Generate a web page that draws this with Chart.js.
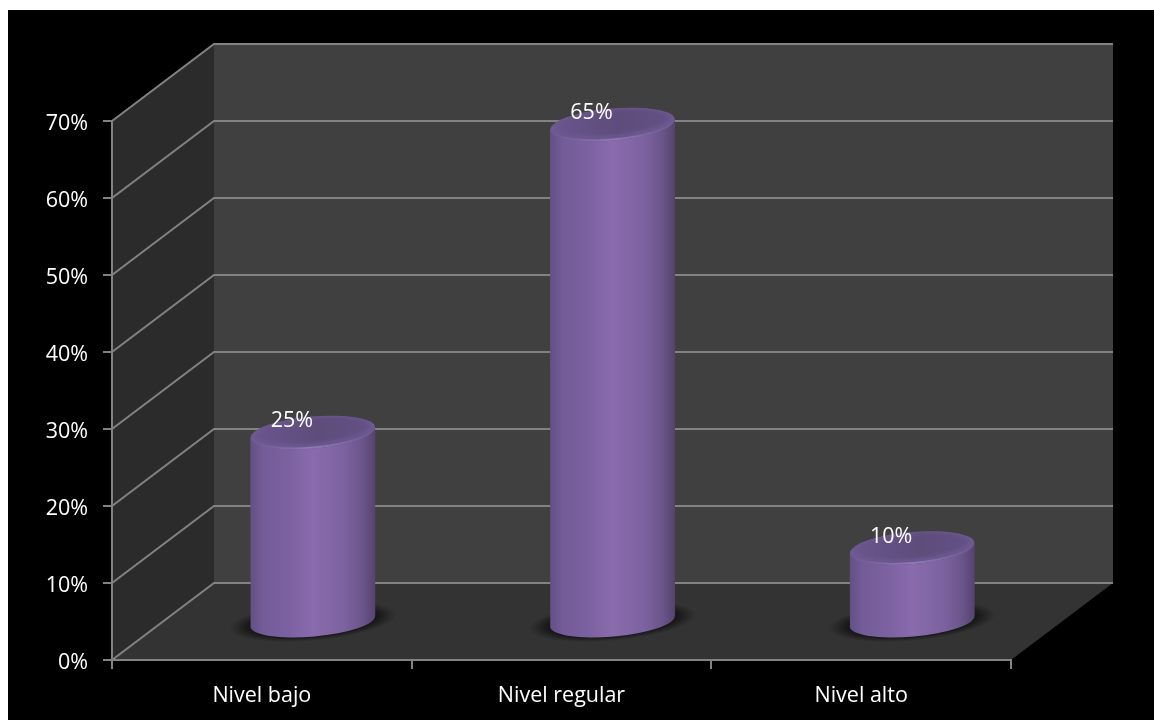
<!DOCTYPE html>
<html>
<head>
<meta charset="utf-8">
<script src="https://cdn.jsdelivr.net/npm/chart.js@4/dist/chart.umd.min.js"></script>
<style>
  html, body { margin: 0; background: #fff; }
  canvas { display: block; }
</style>
</head>
<body>
<canvas id="nivelChart" width="1154" height="720"></canvas>
<script>
var categories = ["Nivel bajo", "Nivel regular", "Nivel alto"];
var values = [25, 65, 10];
var tickLabels = ["0%", "10%", "20%", "30%", "40%", "50%", "60%", "70%"];

var LINE = "#828282";
var FONT = { family: "'Open Sans'", size: 21.5 };
// depth of the fake 3d box, the columns stand half way in
var DEPTH_X = 102, DEPTH_Y = 77;
var TILT = 5.5, CAP_RY = 15, CAP_DROP = 3.5;
var ANGLE = -5 * Math.PI / 180;

function ellipsePath(ctx, x, y, rx, ry) {
  ctx.ellipse(x, y, rx, ry, ANGLE, 0, Math.PI * 2);
}

// outline of one cylinder, in translated coordinates
function cylinderPath(ctx, x, rx, top, bottom) {
  ctx.moveTo(x - rx, top + TILT);
  ctx.lineTo(x + rx, top - TILT);
  ctx.lineTo(x + rx, bottom - TILT);
  ctx.ellipse(x, bottom, rx, CAP_RY, ANGLE, 0, Math.PI);
  ctx.closePath();
}

var box3d = {
  id: "box3d",
  beforeDraw: function (chart) {
    var ctx = chart.ctx, a = chart.chartArea, y = chart.scales.y;
    ctx.save();
    ctx.fillStyle = "#000";
    ctx.fillRect(8, 10, chart.width - 8, chart.height - 10);

    // back wall
    ctx.fillStyle = "#404040";
    ctx.fillRect(a.left + DEPTH_X, a.top - DEPTH_Y, a.right - a.left, a.bottom - a.top);
    // side wall
    ctx.fillStyle = "#2b2b2b";
    ctx.beginPath();
    ctx.moveTo(a.left, a.bottom);
    ctx.lineTo(a.left + DEPTH_X, a.bottom - DEPTH_Y);
    ctx.lineTo(a.left + DEPTH_X, a.top - DEPTH_Y);
    ctx.lineTo(a.left, a.top);
    ctx.closePath();
    ctx.fill();
    // floor
    ctx.fillStyle = "#333333";
    ctx.beginPath();
    ctx.moveTo(a.left, a.bottom);
    ctx.lineTo(a.left + DEPTH_X, a.bottom - DEPTH_Y);
    ctx.lineTo(a.right + DEPTH_X, a.bottom - DEPTH_Y);
    ctx.lineTo(a.right, a.bottom);
    ctx.closePath();
    ctx.fill();

    // gridlines run along side wall and back wall
    ctx.strokeStyle = LINE;
    ctx.lineWidth = 2;
    y.ticks.forEach(function (t) {
      var py = y.getPixelForValue(t.value);
      ctx.beginPath();
      ctx.moveTo(a.left, py);
      ctx.lineTo(a.left + DEPTH_X, py - DEPTH_Y);
      ctx.lineTo(a.right + DEPTH_X, py - DEPTH_Y);
      ctx.stroke();
    });
    ctx.restore();
  },
  beforeDatasetsDraw: function (chart) {
    var ctx = chart.ctx, bars = chart.getDatasetMeta(0).data;
    var bottom = chart.scales.y.getPixelForValue(0);
    ctx.save();
    ctx.translate(DEPTH_X / 2, -DEPTH_Y / 2);

    // soft shadow on the floor
    bars.forEach(function (bar) {
      ctx.save();
      ctx.translate(bar.x, bottom);
      ctx.rotate(ANGLE);
      ctx.scale(1, 0.23);
      var g = ctx.createRadialGradient(0, 0, 48, 0, 0, 84);
      g.addColorStop(0, "rgba(0,0,0,0.7)");
      g.addColorStop(0.5, "rgba(0,0,0,0.5)");
      g.addColorStop(0.8, "rgba(0,0,0,0.18)");
      g.addColorStop(1, "rgba(0,0,0,0)");
      ctx.fillStyle = g;
      ctx.beginPath();
      ctx.arc(0, 0, 84, 0, Math.PI * 2);
      ctx.fill();
      ctx.restore();
    });

    // library bars get trimmed to the cylinder outline
    ctx.beginPath();
    bars.forEach(function (bar) {
      cylinderPath(ctx, bar.x, bar.width / 2, bar.y + CAP_DROP, bottom);
    });
    ctx.clip();
  },
  afterDatasetsDraw: function (chart) {
    var ctx = chart.ctx, bars = chart.getDatasetMeta(0).data;
    ctx.restore();
    ctx.save();
    ctx.translate(DEPTH_X / 2, -DEPTH_Y / 2);
    bars.forEach(function (bar) {
      var rx = bar.width / 2, cy = bar.y + CAP_DROP;
      ctx.save();
      // top cap, soft inner disc
      ctx.beginPath();
      ellipsePath(ctx, bar.x, cy, rx, CAP_RY + 1);
      ctx.clip();
      ctx.fillStyle = "#6e5a92";
      ctx.fillRect(bar.x - rx, cy - 20, rx * 2, 40);
      var g = ctx.createLinearGradient(bar.x - rx, 0, bar.x + rx, 0);
      g.addColorStop(0, "#6b568e");
      g.addColorStop(0.55, "#5e4c7b");
      g.addColorStop(1, "#645185");
      ctx.filter = "blur(2px)";
      ctx.fillStyle = g;
      ctx.beginPath();
      ellipsePath(ctx, bar.x, cy - 2, rx - 5, CAP_RY - 2);
      ctx.fill();
      // light rim on the front edge, strongest in the middle
      var r = ctx.createLinearGradient(bar.x - rx, 0, bar.x + rx, 0);
      r.addColorStop(0, "rgba(145,122,180,0)");
      r.addColorStop(0.5, "rgba(145,122,180,1)");
      r.addColorStop(1, "rgba(145,122,180,0)");
      ctx.filter = "blur(0.6px)";
      ctx.strokeStyle = r;
      ctx.lineWidth = 2;
      ctx.beginPath();
      ctx.ellipse(bar.x, cy, rx - 1, CAP_RY, ANGLE, 0.2, Math.PI - 0.2);
      ctx.stroke();
      ctx.restore();
    });
    ctx.restore();

    // value labels
    ctx.save();
    ctx.fillStyle = "#ffffff";
    ctx.font = FONT.size + "px " + FONT.family;
    ctx.textAlign = "center";
    ctx.textBaseline = "middle";
    bars.forEach(function (bar, i) {
      ctx.fillText(values[i] + "%", bar.x + DEPTH_X / 2 - 21, bar.y - DEPTH_Y / 2 - 8);
    });
    ctx.restore();
  }
};

var ctxN = document.getElementById("nivelChart").getContext("2d");
var nivelChart = new Chart(ctxN, {
  type: "bar",
  data: {
    labels: categories,
    datasets: [{
      label: "Nivel",
      data: values,
      base: -3,
      barThickness: 125,
      borderWidth: 0,
      clip: false,
      backgroundColor: function (c) {
        var x = c.chart.scales.x;
        var cx = x ? x.getPixelForValue(c.dataIndex) : NaN;
        if (!isFinite(cx)) return "#8669a9";
        var g = c.chart.ctx.createLinearGradient(cx - 62.5, 0, cx + 62.5, 0);
        g.addColorStop(0, "#625085");
        g.addColorStop(0.1, "#735c97");
        g.addColorStop(0.3, "#7b61a0");
        g.addColorStop(0.5, "#8a6bad");
        g.addColorStop(0.75, "#7c62a0");
        g.addColorStop(0.9, "#6a5589");
        g.addColorStop(1, "#54436e");
        return g;
      }
    }]
  },
  options: {
    responsive: false,
    animation: false,
    layout: { padding: { top: 121, right: 143, left: 0, bottom: 0 } },
    plugins: { legend: { display: false }, tooltip: { enabled: false } },
    scales: {
      x: {
        afterFit: function (s) { s.height = 60; },
        border: { color: LINE, width: 2 },
        grid: { color: LINE, lineWidth: 2, drawOnChartArea: false, tickLength: 9 },
        ticks: { color: "#ffffff", font: FONT, padding: 14, maxRotation: 0 }
      },
      y: {
        min: 0,
        max: 70,
        afterFit: function (s) { s.width = 112; },
        border: { color: LINE, width: 2 },
        grid: { color: LINE, lineWidth: 2, drawOnChartArea: false, tickLength: 9 },
        ticks: {
          stepSize: 10,
          color: "#ffffff",
          font: FONT,
          padding: 15,
          labelOffset: 3,
          callback: function (v, i) { return tickLabels[i]; }
        }
      }
    }
  },
  plugins: [box3d]
});
</script>
</body>
</html>
